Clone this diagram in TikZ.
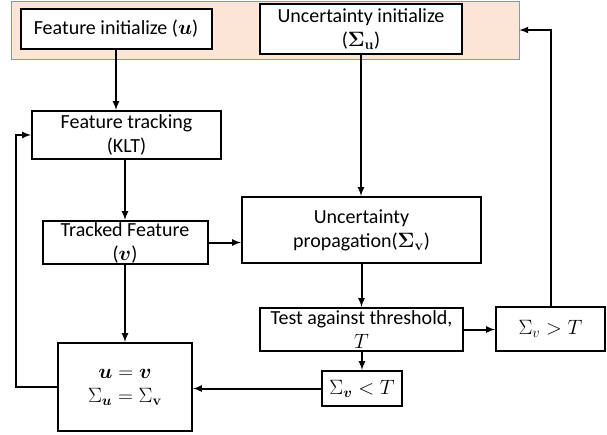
\documentclass[tikz,border=0pt]{standalone}
\usepackage{amsmath,bm}
\usepackage[no-math]{fontspec}
\setmainfont{Carlito}
\definecolor{initfill}{HTML}{FBE5D6}
\definecolor{initline}{HTML}{8496B0}

\begin{document}
\begin{tikzpicture}[x=1pt,y=-1pt,>=latex,
  every node/.style={font=\fontsize{20}{24}\selectfont,align=center,inner sep=0pt},
  block/.style={draw=black,fill=white,line width=2pt},
  link/.style={->,line width=2pt}]
\useasboundingbox (0,0) rectangle (607,434);
\node[fill=initfill,draw=initline,line width=0.8pt,minimum width=508,minimum height=58] (init) at (265,30) {};
\node[block,minimum width=191,minimum height=40] (finit) at (116,29) {Feature initialize ($\bm{u}$)};
\node[block,minimum width=202,minimum height=50] (uinit) at (361,29) {Uncertainty initialize\\($\bm{\Sigma}_{\mathbf{u}}$)};
\node[block,minimum width=189,minimum height=48] (track) at (126.5,135) {Feature tracking\\(KLT)};
\node[block,minimum width=165,minimum height=43] (tracked) at (125,242.5) {Tracked Feature\\($\bm{v}$)};
\node[block,minimum width=239,minimum height=66] (prop) at (361.5,230) {Uncertainty\\propagation($\bm{\Sigma}_{\mathbf{v}}$)};
\node[block,minimum width=203,minimum height=43] (test) at (361.5,329.5) {Test against threshold,\\$T$};
\node[block,minimum width=109,minimum height=44] (gt) at (550.5,329) {$\Sigma_v > T$};
\node[block,minimum width=80,minimum height=35] (lt) at (362,388.5) {$\Sigma_{\bm{v}} < T$};
\node[block,minimum width=134,minimum height=88] (eq) at (125,387) {$\bm{u}=\bm{v}$\\$\Sigma_{\bm{u}}=\Sigma_{\mathbf{v}}$};
\draw[link] (finit.south) -- (finit.south |- track.north);
\draw[link] (uinit.south) -- (uinit.south |- prop.north);
\draw[link] (tracked.north |- track.south) -- (tracked.north);
\draw[link] (tracked.east) -- (tracked.east -| prop.west);
\draw[link] (tracked.south) -- (tracked.south |- eq.north);
\draw[link] (prop.south) -- (prop.south |- test.north);
\draw[link] (test.east) -- (test.east -| gt.west);
\draw[link] (lt.north |- test.south) -- (lt.north);
\draw[link] (lt.west) -- (lt.west -| eq.east);
\draw[link] (eq.west) -- ++(-41,0) |- (track.west);
\draw[link] (gt.north) |- (init.east);
\end{tikzpicture}
\end{document}
